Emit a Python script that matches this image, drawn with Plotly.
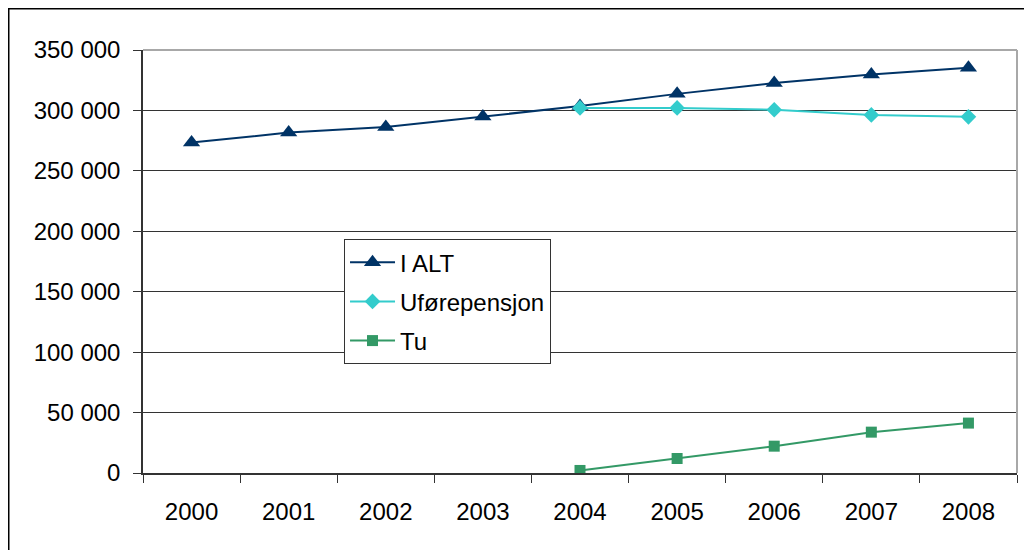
import plotly.graph_objects as go

years = ["2000", "2001", "2002", "2003", "2004", "2005", "2006", "2007", "2008"]
i_alt = [273400, 281700, 286200, 294900, 303600, 313700, 322600, 329700, 335300]
ufore_years = ["2004", "2005", "2006", "2007", "2008"]
uforepensjon = [302100, 302100, 300500, 296300, 294700]
tu_years = ["2004", "2005", "2006", "2007", "2008"]
tu = [2100, 12000, 22200, 33800, 41300]
y_ticks = [0, 50000, 100000, 150000, 200000, 250000, 300000, 350000]

FONT = "Liberation Sans, Arial, sans-serif"
FS = 24

fig = go.Figure()
fig.add_trace(go.Scatter(x=years, y=i_alt, name="I ALT", mode="lines+markers", legendgroup="a",
                         line=dict(color="#003366", width=2),
                         marker=dict(symbol="triangle-up", size=15, color="#003366")))
fig.add_trace(go.Scatter(x=ufore_years, y=uforepensjon, name="Uførepensjon", mode="lines+markers",
                         legendgroup="b",
                         line=dict(color="#33CCCC", width=2),
                         marker=dict(symbol="diamond", size=12, color="#33CCCC")))
fig.add_trace(go.Scatter(x=tu_years, y=tu, name="Tu", mode="lines+markers", legendgroup="c",
                         line=dict(color="#339966", width=2),
                         marker=dict(symbol="square", size=11, color="#339966")))

L, T, W, H = 135, 42, 874, 423

fig.update_layout(
    width=1032, height=550,
    margin=dict(l=L, r=1032 - L - W, t=T, b=550 - T - H, autoexpand=False),
    paper_bgcolor="white", plot_bgcolor="white",
    font=dict(family=FONT, size=FS, color="black"),
    separators=". ",
    showlegend=True,
    legend=dict(x=0.23, y=0.553, xanchor="left", yanchor="top",
                bgcolor="white", bordercolor="#333333", borderwidth=1,
                font=dict(family=FONT, size=FS, color="black"),
                tracegroupgap=5, traceorder="grouped", itemwidth=45),
    xaxis=dict(type="category", categoryorder="array", categoryarray=years,
               tickson="boundaries", ticks="outside", ticklen=8, tickcolor="#333333",
               showline=True, linecolor="#333333", linewidth=1.5,
               showgrid=False, tickfont=dict(size=FS), range=[-0.5, 8.5],
               ticklabelstandoff=16),
    yaxis=dict(range=[0, 350000], tickvals=y_ticks, tickformat=",d",
               ticks="outside", ticklen=8, tickcolor="#333333",
               showline=True, linecolor="#333333", linewidth=1.5,
               showgrid=True, gridcolor="#333333", gridwidth=1,
               zeroline=False, tickfont=dict(size=FS), ticklabelstandoff=8),
    shapes=[
        dict(type="line", xref="paper", yref="paper", x0=0, x1=1, y0=1, y1=1,
             line=dict(color="#a8a8a8", width=2)),
        dict(type="line", xref="paper", yref="paper", x0=1, x1=1, y0=0, y1=1,
             line=dict(color="#a8a8a8", width=2)),
        dict(type="rect", xref="paper", yref="paper",
             x0=(0.75 - L) / W, x1=1.2, y0=-0.4, y1=(T + H - 0.75) / H,
             line=dict(color="black", width=1.5), layer="below"),
    ],
)

fig.write_html("out.html")
